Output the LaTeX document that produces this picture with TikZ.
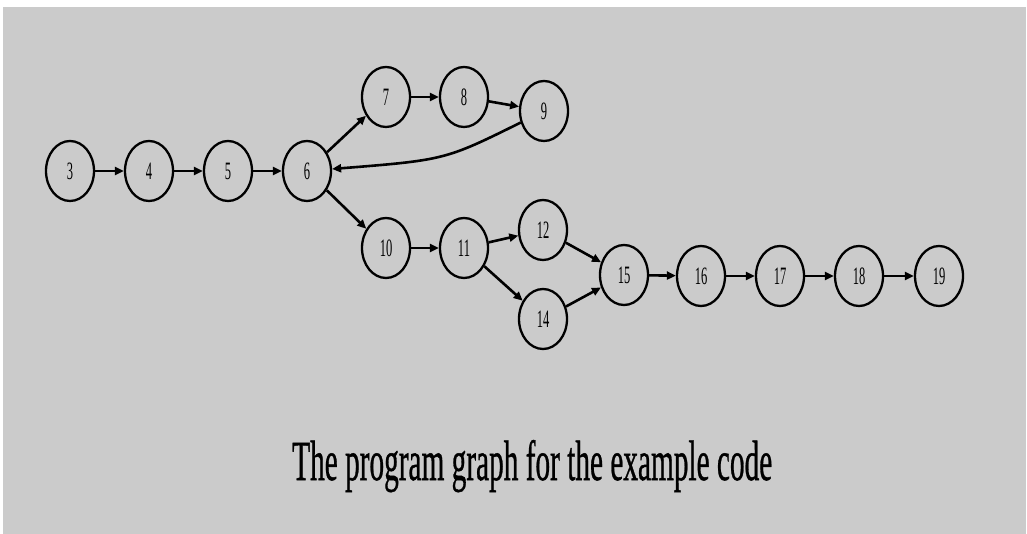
\documentclass[tikz,border=0pt]{standalone}
\usepackage{fontspec}
\setmainfont{Liberation Serif}
\newfontfamily\heavyserif[FakeBold=0.9]{Liberation Serif}
\usetikzlibrary{shapes.geometric,arrows.meta}
\definecolor{panel}{RGB}{203,203,203}
\newcommand{\nodelabel}[1]{\scalebox{0.5}[1]{\fontsize{25}{25}\selectfont #1}}
\begin{document}
\begin{tikzpicture}[x=1pt,y=-1pt,
  vertex/.style={ellipse,draw=black,line width=2.3pt,minimum width=48pt,minimum height=60pt,inner sep=0pt},
  flow/.style={line width=2.6pt,-{Triangle[length=9pt,width=8pt]}}]
  \useasboundingbox (0,0) rectangle (1027,534);
  \fill[white] (0,0) rectangle (1027,534);
  \fill[panel] (3,7) rectangle (1026,534);

  % statement nodes
  \node[vertex] (n3)  at (70,171)  {\nodelabel{3}};
  \node[vertex] (n4)  at (149,171) {\nodelabel{4}};
  \node[vertex] (n5)  at (228,171) {\nodelabel{5}};
  \node[vertex] (n6)  at (307,171) {\nodelabel{6}};
  \node[vertex] (n7)  at (386,97)  {\nodelabel{7}};
  \node[vertex] (n8)  at (464,97)  {\nodelabel{8}};
  \node[vertex] (n9)  at (544,111) {\nodelabel{9}};
  \node[vertex] (n10) at (386,248) {\nodelabel{10}};
  \node[vertex] (n11) at (464,248) {\nodelabel{11}};
  \node[vertex] (n12) at (543,230) {\nodelabel{12}};
  \node[vertex] (n14) at (543,319) {\nodelabel{14}};
  \node[vertex] (n15) at (624,275) {\nodelabel{15}};
  \node[vertex] (n16) at (701,276) {\nodelabel{16}};
  \node[vertex] (n17) at (780,276) {\nodelabel{17}};
  \node[vertex] (n18) at (859,276) {\nodelabel{18}};
  \node[vertex] (n19) at (939,276) {\nodelabel{19}};

  % control flow edges
  \draw[flow] (n3) -- (n4);
  \draw[flow] (n4) -- (n5);
  \draw[flow] (n5) -- (n6);
  \draw[flow] (n6) -- (n7);
  \draw[flow] (n7) -- (n8);
  \draw[flow] (n8) -- (n9);
  \draw[flow] (n9) .. controls (445,160) .. (n6);
  \draw[flow] (n6) -- (n10);
  \draw[flow] (n10) -- (n11);
  \draw[flow] (n11) -- (n12);
  \draw[flow] (n11) -- (n14);
  \draw[flow] (n12) -- (n15);
  \draw[flow] (n14) -- (n15);
  \draw[flow] (n15) -- (n16);
  \draw[flow] (n16) -- (n17);
  \draw[flow] (n17) -- (n18);
  \draw[flow] (n18) -- (n19);

  % caption
  \node[anchor=base west,inner sep=0pt] (caption) at (292,480)
    {\resizebox{480pt}{40pt}{\heavyserif\fontsize{40}{40}\selectfont The program graph for the example code}};
\end{tikzpicture}
\end{document}
